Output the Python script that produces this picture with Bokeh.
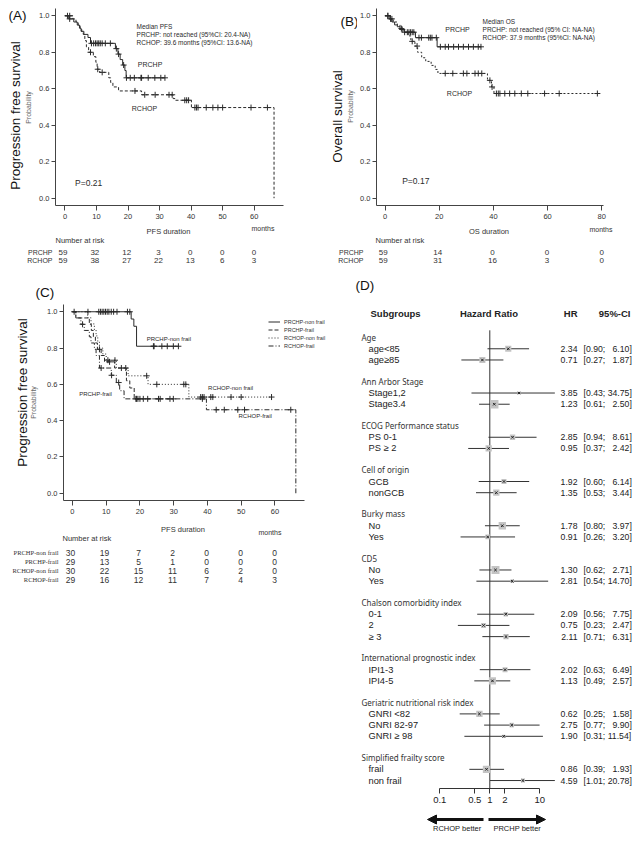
import numpy as np
from bokeh.plotting import figure
from bokeh.layouts import row, column, Spacer
from bokeh.models import (Range1d, Label, Legend, LegendItem, FixedTicker, LinearScale,
                          PrintfTickFormatter, CustomJSTickFormatter, Arrow, NormalHead)
from bokeh.core.properties import value
from bokeh.embed import file_html
from bokeh.resources import INLINE

# ---------------------------------------------------------------- data
# Panel A : progression free survival (months)
a_prchp_t = [1.2, 2.8, 3.9, 4.6, 5.1, 6.0, 7.3, 8.1, 16.0, 16.8, 17.5, 18.3, 19.0, 19.4]
a_prchp_s = [0.983, 0.966, 0.949, 0.932, 0.915, 0.898, 0.881, 0.849, 0.82, 0.79, 0.76, 0.73, 0.70, 0.66]
a_prchp_c = [0.8, 1.5, 8.4, 9.1, 9.7, 10.2, 10.7, 11.2, 11.8, 12.8, 14.4, 16.3, 17.0, 18.6,
             19.5, 20.7, 22.0, 24.1, 24.3, 26.4, 28.5, 30.4, 31.7]
a_rchop_t = [2.5, 3.5, 4.2, 4.8, 5.3, 5.8, 6.3, 6.8, 7.5, 9.0, 9.8, 10.2, 11.0, 13.9, 14.5, 15.2,
             17.0, 24.3, 34.3, 35.0, 40.1, 66.3]
a_rchop_s = [0.983, 0.966, 0.949, 0.932, 0.915, 0.898, 0.864, 0.83, 0.80, 0.776, 0.745, 0.707,
             0.69, 0.66, 0.634, 0.61, 0.588, 0.567, 0.546, 0.537, 0.497, 0.0]
a_rchop_c = [1.5, 8.1, 10.4, 11.8, 22.2, 25.3, 28.6, 33.0, 34.0, 38.0, 38.6, 39.2, 41.2, 41.7,
             42.2, 44.8, 46.9, 48.5, 50.0, 59.0, 64.2]
risk_times_a = [0, 10, 20, 30, 40, 50, 60]
risk_a_prchp = [59, 32, 12, 3, 0, 0, 0]
risk_a_rchop = [59, 38, 27, 22, 13, 6, 3]

# Panel B : overall survival (months)
b_prchp_t = [1.5, 2.5, 3.5, 4.5, 5.5, 7.0, 11.2, 19.2]
b_prchp_s = [0.983, 0.966, 0.95, 0.94, 0.925, 0.91, 0.88, 0.83]
b_prchp_c = [1.0, 2.0, 6.3, 7.2, 8.2, 8.8, 9.4, 10.0, 10.6, 12.5, 13.4, 16.1, 16.7, 17.3, 18.9,
             20.4, 22.2, 23.4, 25.3, 27.1, 28.9, 30.8, 32.6, 34.4, 35.4]
b_rchop_t = [2.0, 3.0, 4.5, 5.5, 7.0, 8.5, 9.5, 11.0, 12.0, 13.5, 15.0, 17.0, 18.5, 19.5, 37.8,
             39.3, 40.2]
b_rchop_s = [0.983, 0.966, 0.95, 0.93, 0.91, 0.89, 0.86, 0.834, 0.80, 0.77, 0.75, 0.728, 0.706,
             0.684, 0.646, 0.61, 0.574]
b_rchop_c = [1.0, 2.5, 6.0, 10.0, 11.8, 22.2, 25.0, 28.9, 30.2, 33.2, 34.4, 35.7, 38.7, 39.5,
             41.1, 41.8, 42.4, 44.2, 46.0, 47.9, 50.3, 52.7, 58.9, 64.3, 78.4]
risk_times_b = [0, 20, 40, 60, 80]
risk_b_prchp = [59, 14, 0, 0, 0]
risk_b_rchop = [59, 31, 16, 3, 0]

# Panel C : PFS by frailty
c_names = ["PRCHP-non frail", "PRCHP-frail", "RCHOP-non frail", "RCHOP-frail"]
c_pnf_t = [17.4, 18.2, 19.0]
c_pnf_s = [0.96, 0.92, 0.81]
c_pnf_c = [4.6, 7.8, 8.3, 8.8, 9.3, 9.8, 10.3, 10.8, 11.5, 12.2, 13.2, 16.3, 17.0, 24.0, 24.2,
           26.5, 28.1, 29.9, 31.4]
c_pf_t = [1.0, 5.0, 5.6, 6.2, 6.8, 7.4, 8.5, 9.5, 12.5, 16.0, 17.0, 18.3]
c_pf_s = [0.966, 0.931, 0.897, 0.862, 0.828, 0.793, 0.759, 0.724, 0.69, 0.62, 0.58, 0.52]
c_pf_c = [8.0, 11.0, 18.8, 19.4, 20.0, 21.0, 22.3, 25.5, 28.9, 29.9]
c_rnf_t = [4.5, 5.5, 6.5, 7.0, 7.5, 8.0, 9.0, 10.0, 13.0, 16.5, 22.4, 34.5]
c_rnf_s = [0.967, 0.933, 0.90, 0.867, 0.833, 0.80, 0.767, 0.733, 0.69, 0.647, 0.60, 0.53]
c_rnf_c = [10.5, 12.6, 14.5, 15.8, 22.0, 25.0, 33.0, 33.6, 38.0, 38.5, 39.0, 41.0, 41.6, 47.0,
           50.0, 59.0]
c_rf_t = [1.0, 2.5, 3.5, 5.0, 5.5, 6.5, 7.0, 8.0, 11.5, 13.0, 14.0, 15.3, 39.7, 66.2]
c_rf_s = [0.966, 0.931, 0.897, 0.862, 0.828, 0.793, 0.759, 0.69, 0.65, 0.61, 0.565, 0.52, 0.46,
          0.0]
c_rf_c = [0.5, 3.0, 8.5, 11.6, 13.7, 19.0, 26.0, 38.5, 42.6, 45.0, 49.0, 51.0, 64.7]
risk_times_c = [0, 10, 20, 30, 40, 50, 60]
risk_c = [[30, 19, 7, 2, 0, 0, 0],
          [29, 13, 5, 1, 0, 0, 0],
          [30, 22, 15, 11, 6, 2, 0],
          [29, 16, 12, 11, 7, 4, 3]]

# Panel D : subgroup hazard ratios (PRCHP vs RCHOP)
d_groups = ["Age", "Ann Arbor Stage", "ECOG Performance status", "Cell of origin",
            "Burky mass", "CD5", "Chalson comorbidity index", "International prognostic index",
            "Geriatric nutritional risk index", "Simplified frailty score"]
d_levels = [["age<85", "age\u226585"], ["Stage1,2", "Stage3.4"], ["PS 0-1", "PS \u2265 2"],
            ["GCB", "nonGCB"], ["No", "Yes"], ["No", "Yes"], ["0-1", "2", "\u2265 3"],
            ["IPI1-3", "IPI4-5"], ["GNRI <82", "GNRI 82-97", "GNRI \u2265 98"],
            ["frail", "non frail"]]
d_hr = [[2.34, 0.71], [3.85, 1.23], [2.85, 0.95], [1.92, 1.35], [1.78, 0.91], [1.30, 2.81],
        [2.09, 0.75, 2.11], [2.02, 1.13], [0.62, 2.75, 1.90], [0.86, 4.59]]
d_lo = [[0.90, 0.27], [0.43, 0.61], [0.94, 0.37], [0.60, 0.53], [0.80, 0.26], [0.62, 0.54],
        [0.56, 0.23, 0.71], [0.63, 0.49], [0.25, 0.77, 0.31], [0.39, 1.01]]
d_hi = [[6.10, 1.87], [34.75, 2.50], [8.61, 2.42], [6.14, 3.44], [3.97, 3.20], [2.71, 14.70],
        [7.75, 2.47, 6.31], [6.49, 2.57], [1.58, 9.90, 11.54], [1.93, 20.78]]
d_ticks = [0.1, 0.5, 1, 2, 10]

# ---------------------------------------------------------------- helpers
FONT = "Liberation Sans"
INK = "#2a2a2a"


def base_fig(width, height, **kw):
    p = figure(width=width, height=height, output_backend="svg", toolbar_location=None,
               frame_align=False, **kw)
    p.grid.visible = False
    p.outline_line_color = None
    return p


def strip_fig(width, height):
    return base_fig(width, height, x_range=Range1d(0, width), y_range=Range1d(height, 0),
                    x_axis_location=None, y_axis_location=None, min_border_left=0,
                    min_border_right=0, min_border_top=0, min_border_bottom=0)


def txt(p, x, y, text, size, color=INK, align="left", angle=0.0, font=FONT, style="normal",
        range_name=None):
    kw = {} if range_name is None else {"x_range_name": range_name}
    xs = x if isinstance(x, (list, np.ndarray)) else [x]
    ys = y if isinstance(y, (list, np.ndarray)) else [y]
    ts = text if isinstance(text, list) else [text]
    p.text(x=xs, y=ys, text=ts, text_font=value(font), text_font_size=value(f"{size}px"),
           text_color=color, text_align=align, text_baseline="middle", angle=angle,
           text_font_style=style, **kw)


def lab(p, x, y, text, size, color=INK, align="left"):
    p.add_layout(Label(x=x, y=y, text=text, text_font=FONT, text_font_size=f"{size}px",
                       text_color=color, text_align=align, text_baseline="middle"))


def surv_at(t, s, c):
    t = np.asarray(t, float)
    s = np.asarray(s, float)
    idx = np.searchsorted(t, np.asarray(c, float), side="right") - 1
    return np.where(idx >= 0, s[np.clip(idx, 0, None)], 1.0)


def km_curve(p, t, s, c, dash):
    end = max(max(t), max(c))
    xs = [0.0] + list(t) + [end]
    ys = [1.0] + list(s) + [s[-1]]
    r = p.step(xs, ys, mode="after", line_color=INK, line_width=1, line_dash=dash)
    p.scatter(c, surv_at(t, s, c), marker="cross", size=6, line_color=INK, line_width=1)
    return r


def km_fig(g, width, top, frame_h, bottom, xticks):
    left = g["frame_x0"] - g["fig_x0"]
    right = g["fig_x0"] + width - g["frame_x1"]
    xr = (g["t0"], g["t0"] + (g["frame_x1"] - g["frame_x0"]) / g["ppu"])
    p = base_fig(width, top + frame_h + bottom, x_range=Range1d(*xr),
                 y_range=Range1d(-0.04, 1.04),
                 min_border_left=left, min_border_right=right, min_border_top=top,
                 min_border_bottom=bottom)
    p.xaxis.ticker = FixedTicker(ticks=xticks)
    p.xaxis.bounds = (g["t0"], g["t0"] + (g["axis_x1"] - g["frame_x0"]) / g["ppu"])
    p.yaxis.ticker = FixedTicker(ticks=[0, 0.2, 0.4, 0.6, 0.8, 1.0])
    p.yaxis.formatter = PrintfTickFormatter(format="%.1f")
    for ax in p.axis:
        ax.minor_tick_line_color = None
        ax.major_tick_in = 0
        ax.axis_line_color = "#444"
        ax.major_tick_line_color = "#444"
        ax.major_label_text_font = FONT
        ax.major_label_text_font_size = "7.5px"
        ax.major_label_text_color = "#333"
    p.xaxis.major_tick_out = 5
    p.xaxis.major_label_standoff = 3
    p.yaxis.major_tick_out = 4
    p.yaxis.major_label_standoff = 2
    return p


def tag_fig(width, height, tag, tag_xy, big, big_xy, prob_xy):
    p = strip_fig(width, height)
    if tag:
        txt(p, tag_xy[0], tag_xy[1], tag, 13.5, color="#111")
    txt(p, big_xy[0], big_xy[1], big, 13.5, color="#111", align="center", angle=np.pi / 2)
    txt(p, prob_xy[0], prob_xy[1], "Probability", 7, color="#666", align="center",
        angle=np.pi / 2)
    return p


def table_fig(g, width, height, names, values, times, xlabel, ys, label_font, label_size,
              num_size):
    def t_at(px):
        return g["t0"] + (px - g["frame_x0"]) / g["ppu"]
    x0 = g["tab_x0"]
    p = base_fig(width, height, x_range=Range1d(t_at(x0), t_at(x0 + width)),
                 y_range=Range1d(height, 0), x_axis_location=None, y_axis_location=None,
                 min_border_left=0, min_border_right=0, min_border_top=0, min_border_bottom=0)
    txt(p, t_at((g["frame_x0"] + g["axis_x1"]) / 2), ys["xlabel"], xlabel, 7.5, color="#333",
        align="center")
    txt(p, t_at(g["months_x"]), ys["months"], "months", 7, color="#333")
    txt(p, t_at(g["hdr_x"]), ys["hdr"], "Number at risk", 7.5, color="#333")
    for name, vals, yy in zip(names, values, ys["rows"]):
        txt(p, t_at(g["rowlab_x"]), yy, name, label_size, color="#333", align="right",
            font=label_font)
        txt(p, list(times), [yy] * len(times), [str(v) for v in vals], num_size, color="#333",
            align="center")
    return p


# geometry of panels, in page pixels
GA = dict(fig_x0=36, frame_x0=53, frame_x1=283, axis_x1=283, t0=-3.0, ppu=230 / 72.3,
          tab_x0=8, months_x=251, hdr_x=55, rowlab_x=52)
GB = dict(fig_x0=357, frame_x0=374, frame_x1=612, axis_x1=603, t0=-3.19, ppu=2.73,
          tab_x0=328, months_x=589, hdr_x=375, rowlab_x=363)
GC = dict(fig_x0=44, frame_x0=61, frame_x1=328, axis_x1=304, t0=-2.65, ppu=3.4,
          tab_x0=8, months_x=258, hdr_x=62, rowlab_x=58)
RIGHT_W = 304

# ---------------------------------------------------------------- panel A
pa = km_fig(GA, 292, 0, 197, 18, risk_times_a)
km_curve(pa, a_rchop_t, a_rchop_s, a_rchop_c, "3 2")
km_curve(pa, a_prchp_t, a_prchp_s, a_prchp_c, "solid")
lab(pa, 22.7, 0.94, "Median PFS", 6.5)
lab(pa, 22.7, 0.896, "PRCHP: not reached  (95%CI: 20.4-NA)", 6.5)
lab(pa, 22.7, 0.853, "RCHOP: 39.6 months (95%CI: 13.6-NA)", 6.5)
lab(pa, 23.1, 0.732, "PRCHP", 7)
lab(pa, 21.2, 0.49, "RCHOP", 7)
lab(pa, 3.2, 0.082, "P=0.21", 8.5)
tga = tag_fig(28, 215, "(A)", (0, 7), "Progression free survival", (7, 107), (20, 99))
ta = table_fig(GA, 320, 43, ["PRCHP", "RCHOP"], [risk_a_prchp, risk_a_rchop], risk_times_a,
               "PFS duration", dict(xlabel=8, months=5, hdr=17, rows=[29, 37]), FONT, 7, 8)

# ---------------------------------------------------------------- panel B
pb = km_fig(GB, RIGHT_W - 29, 0, 197, 18, risk_times_b)
km_curve(pb, b_rchop_t, b_rchop_s, b_rchop_c, "2 2")
km_curve(pb, b_prchp_t, b_prchp_s, b_prchp_c, "solid")
lab(pb, 36, 0.967, "Median OS", 6.5)
lab(pb, 36, 0.924, "PRCHP: not reached  (95% CI: NA-NA)", 6.5)
lab(pb, 36, 0.881, "RCHOP: 37.9 months (95%CI:  NA-NA)", 6.5)
lab(pb, 22.2, 0.925, "PRCHP", 7)
lab(pb, 22.8, 0.576, "RCHOP", 7)
lab(pb, 6.3, 0.094, "P=0.17", 8.5)
tgb = tag_fig(29, 215, "(B)", (12, 13), "Overall survival", (9, 108), (22, 98))
tb = table_fig(GB, RIGHT_W, 43, ["PRCHP", "RCHOP"], [risk_b_prchp, risk_b_rchop], risk_times_b,
               "OS duration", dict(xlabel=8, months=6, hdr=17, rows=[29, 37]), FONT, 7, 8)

# ---------------------------------------------------------------- panel C
cstrip = strip_fig(320, 34)
txt(cstrip, 27, 26, "(C)", 13.5, color="#111")
pc = km_fig(GC, 284, 4, 196, 18, risk_times_c)
dashes = ["solid", "4 2", "1 2", "5 2 1 2"]
curves_c = [(c_pnf_t, c_pnf_s, c_pnf_c), (c_pf_t, c_pf_s, c_pf_c),
            (c_rnf_t, c_rnf_s, c_rnf_c), (c_rf_t, c_rf_s, c_rf_c)]
rends = [km_curve(pc, t, s, c, d) for (t, s, c), d in zip(curves_c, dashes)]
leg = Legend(items=[LegendItem(label=n, renderers=[r]) for n, r in zip(c_names, rends)],
             location=(205, 151), background_fill_alpha=0, border_line_color=None,
             label_text_font=FONT, label_text_font_size="5.5px", label_text_color="#333",
             glyph_width=12, glyph_height=7, label_height=7, spacing=1, padding=0, margin=0,
             label_standoff=4)
pc.add_layout(leg)
lab(pc, 22.0, 0.85, "PRCHP-non frail", 6)
lab(pc, 2.0, 0.547, "PRCHP-frail", 6)
lab(pc, 40.2, 0.578, "RCHOP-non frail", 6)
lab(pc, 49.2, 0.427, "RCHOP-frail", 6)
tgc = tag_fig(36, 218, None, None, "Progression free survival", (14, 92), (25, 102))
tc = table_fig(GC, 320, 68, c_names, risk_c, risk_times_c, "PFS duration",
               dict(xlabel=11, months=14, hdr=20, rows=[34, 43, 52, 61]),
               "Liberation Serif", 6.5, 8.5)

# ---------------------------------------------------------------- panel D (forest)
D_H = 542
D_X0, D_X1 = 328, 328 + RIGHT_W   # page-pixel extent of the panel
ONE_PX, DEC_PX = 489.3, 50.0      # page position of HR = 1 and width of a decade
ROW0, PITCH = 313.0, 11.2         # page position of the header row and row pitch
D_TOP, D_AXIS = 266.0, 788.0
XCLIP = 20.0
NUM_FS = 8.7

y_top = (D_TOP - ROW0) / PITCH
y_bot = (D_AXIS - ROW0) / PITCH
pd_ = base_fig(RIGHT_W, D_H, x_axis_type="log",
               x_range=Range1d(10 ** ((D_X0 - ONE_PX) / DEC_PX), 10 ** ((D_X1 - ONE_PX) / DEC_PX)),
               y_range=Range1d(y_bot, y_top), y_axis_location=None, min_border_left=0,
               min_border_right=0, min_border_top=0, min_border_bottom=int(D_H - (D_AXIS - D_TOP)))
pd_.extra_x_ranges = {"px": Range1d(D_X0, D_X1)}
pd_.extra_x_scales = {"px": LinearScale()}
xa = pd_.xaxis[0]
xa.bounds = (0.1, 10)
xa.ticker = FixedTicker(ticks=d_ticks)
xa.formatter = CustomJSTickFormatter(code="return String(Math.round(tick*10)/10)")
xa.major_tick_out = 5
xa.major_tick_in = 0
xa.minor_tick_line_color = None
xa.axis_line_color = "#333"
xa.major_tick_line_color = "#333"
xa.major_label_text_font = FONT
xa.major_label_text_font_size = "9.5px"
xa.major_label_text_color = "#222"
xa.major_label_standoff = 3

hdr_y, item_y = [], []
yy = 2.1
for lv in d_levels:
    hdr_y.append(yy)
    yy += 1.05
    ys = []
    for _ in lv:
        ys.append(yy)
        yy += 1.0
    item_y.append(ys)
    yy += 0.9

f_lab = [l for g in d_levels for l in g]
f_y = [y for g in item_y for y in g]
f_hr = np.array([v for g in d_hr for v in g])
f_lo = np.array([v for g in d_lo for v in g])
f_hi = np.array([v for g in d_hi for v in g])
se = (np.log(f_hi) - np.log(f_lo)) / 3.92
box = np.clip(3.0 / se, 2.5, None)

txt(pd_, 355, -2.5, "(D)", 13.5, color="#111", range_name="px")
txt(pd_, 370, 0, "Subgroups", 9.5, color="#222", style="bold", range_name="px")
txt(pd_, 488.5, 0, "Hazard Ratio", 9.5, color="#222", style="bold", align="center",
    range_name="px")
txt(pd_, [577, 630], [0, 0], ["HR", "95%-CI"], 9.5, color="#222", style="bold", align="right",
    range_name="px")
txt(pd_, [361] * len(hdr_y), hdr_y, d_groups, 8, color="#333", font="Noto Sans",
    range_name="px")
txt(pd_, [368] * len(f_y), f_y, f_lab, 9.3, color="#222", range_name="px")
txt(pd_, [577] * len(f_y), f_y, [f"{v:.2f}" for v in f_hr], NUM_FS, color="#222",
    align="right", range_name="px")
FS = "\u2007"
ci_txt = [f"[{lo:.2f}; " + f"{hi:.2f}".rjust(5, FS) + "]" for lo, hi in zip(f_lo, f_hi)]
txt(pd_, [583] * len(f_y), f_y, ci_txt, NUM_FS, color="#222", range_name="px")

pd_.segment(x0=[1], x1=[1], y0=[hdr_y[0] - 0.6], y1=[y_bot], line_color="#333", line_width=1)
pd_.segment(x0=f_lo, x1=np.minimum(f_hi, XCLIP), y0=f_y, y1=f_y, line_color="#333",
            line_width=1)
pd_.scatter(x=f_hr, y=f_y, marker="square", size=box, fill_color="#c4c4c4", line_color=None)
pd_.scatter(x=f_hr, y=f_y, marker="x", size=3.5, line_color="#222", line_width=1)

# direction arrows under the forest axis
parr = strip_fig(RIGHT_W, 24)
parr.x_range = Range1d(D_X0, D_X1)
for xs, xe in [(483, 427), (488, 545)]:
    parr.add_layout(Arrow(x_start=xs, x_end=xe, y_start=11, y_end=11, line_width=3,
                          line_color="#111",
                          end=NormalHead(size=9, fill_color="#111", line_color="#111")))
txt(parr, [456.7, 516.7], [20, 20], ["RCHOP better", "PRCHP better"], 7.5, color="#222",
    align="center")

# ---------------------------------------------------------------- layout
left = column(row(tga, pa), ta, cstrip, row(tgc, pc), tc)
right = column(row(tgb, pb), tb, pd_, parr)
layout = column(Spacer(width=8, height=8), row(Spacer(width=8, height=8), left, right))
with open("out.html", "w") as f:
    f.write(file_html(layout, INLINE))
